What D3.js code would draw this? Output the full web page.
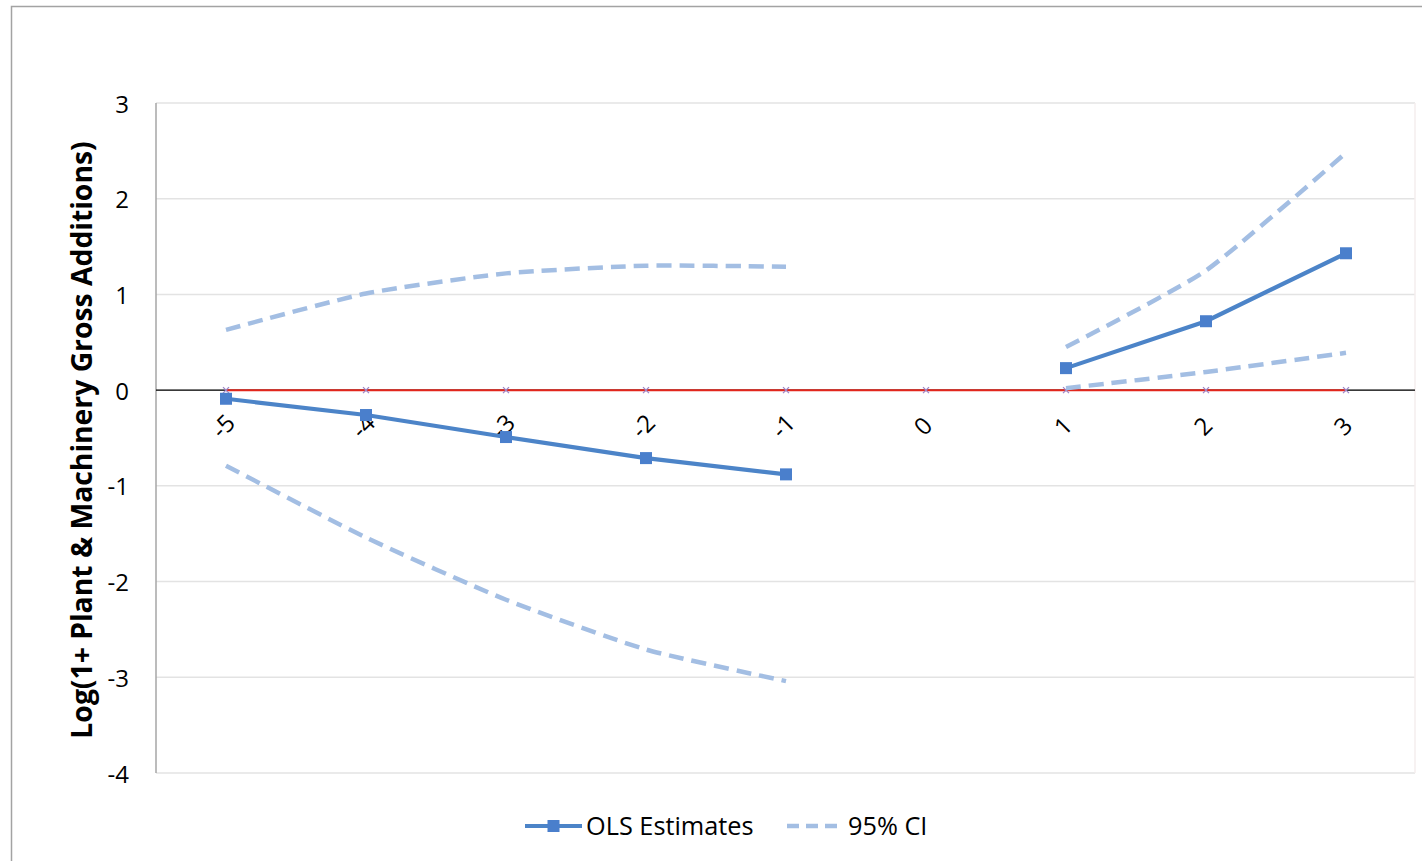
<!DOCTYPE html>
<html><head><meta charset="utf-8">
<script src="https://cdn.jsdelivr.net/npm/d3@7"></script>
<style>html,body{margin:0;padding:0;background:#fff;}svg{display:block;}</style>
</head><body>
<svg id="chart" width="1422" height="861"></svg>
<script>
const categories = ["-5","-4","-3","-2","-1","0","1","2","3"];
const olsEstimates = [-0.09,-0.26,-0.49,-0.71,-0.88,null,0.23,0.72,1.43];
const ciUpper = [0.63,1.01,1.22,1.30,1.29,null,0.45,1.25,2.48];
const ciLower = [-0.79,-1.54,-2.19,-2.71,-3.04,null,0.02,0.19,0.39];
const zeroLine = [0,0,0,0,0,0,0,0,0];
const yTicks = [-4,-3,-2,-1,0,1,2,3];
const yTitle = "Log(1+ Plant & Machinery Gross Additions)";
const legendLabels = ["OLS Estimates","95% CI"];

const FONT = "'Open Sans', 'Liberation Sans', sans-serif";
const svg = d3.select("#chart");
const L = 156, T = 103, R = 1416, B = 773;

svg.append("rect").attr("width",1422).attr("height",861).attr("fill","#fff");
svg.append("rect").attr("x",11.5).attr("y",6.5).attr("width",1430).attr("height",870)
  .attr("fill","none").attr("stroke","#a3a3a3").attr("stroke-width",1.5);

const x = d3.scaleBand().domain(categories).range([L,R]);
const cx = c => x(c) + x.bandwidth()/2;
const y = d3.scaleLinear().domain([-4,3]).range([B,T]);

// gridlines
svg.append("g").selectAll("line").data(yTicks).join("line")
  .attr("x1",L).attr("x2",R-1).attr("y1",d=>y(d)).attr("y2",d=>y(d))
  .attr("stroke","#e3e3e3").attr("stroke-width",1.5);
svg.append("line").attr("x1",R-1).attr("x2",R-1).attr("y1",T).attr("y2",B)
  .attr("stroke","#f4eeee").attr("stroke-width",1.5);

// left axis line
svg.append("line").attr("x1",L).attr("x2",L).attr("y1",T).attr("y2",B)
  .attr("stroke","#a6a6a6").attr("stroke-width",1.5);

// y tick labels
svg.append("g").selectAll("text").data(yTicks).join("text")
  .attr("x",129).attr("y",d=>y(d)+1).attr("dy","0.36em")
  .attr("text-anchor","end").attr("font-family",FONT).attr("font-size",24)
  .attr("fill","#000").text(d=>d);

// y title
svg.append("text").attr("transform",`translate(92,${(T+B)/2 + 2}) rotate(-90)`)
  .attr("text-anchor","middle").attr("font-family",FONT).attr("font-weight","bold")
  .attr("font-size",28.3).attr("fill","#000").text(yTitle);

// zero axis (black)
svg.append("line").attr("x1",L).attr("x2",R-1).attr("y1",y(0)).attr("y2",y(0))
  .attr("stroke","#000").attr("stroke-width",1.3);

// red zero series
const idx = d3.range(categories.length);
const lineLin = d3.line().x(i=>cx(categories[i])).y(i=>y(zeroLine[i]));
svg.append("path").attr("d",lineLin(idx)).attr("fill","none")
  .attr("stroke","#e3261c").attr("stroke-width",2);
// x markers
const xm = svg.append("g");
idx.forEach(i=>{
  const px = cx(categories[i]), py = y(zeroLine[i]), s=3;
  xm.append("path").attr("d",`M${px-s},${py-s}L${px+s},${py+s}M${px-s},${py+s}L${px+s},${py-s}`)
    .attr("stroke","#9d86c9").attr("stroke-width",1.3).attr("fill","none");
});

// x tick labels (rotated)
svg.append("g").selectAll("text").data(categories).join("text")
  .attr("transform",d=>`translate(${cx(d)-3},${426}) rotate(-45)`)
  .attr("text-anchor","middle").attr("dy","0.36em")
  .attr("font-family",FONT).attr("font-size",24).attr("fill","#000").text(d=>d);

// CI lines
const ciLine = vals => d3.line().defined(i=>vals[i]!==null)
  .curve(d3.curveCardinal.tension(0.45))
  .x(i=>cx(categories[i])).y(i=>y(vals[i]));
[ciUpper, ciLower].forEach(vals=>{
  svg.append("path").attr("d",ciLine(vals)(idx)).attr("fill","none")
    .attr("stroke","#a3bee3").attr("stroke-width",4.5)
    .attr("stroke-dasharray","15,8").attr("stroke-linecap","butt");
});

// OLS line
const olsLine = d3.line().defined(i=>olsEstimates[i]!==null)
  .x(i=>cx(categories[i])).y(i=>y(olsEstimates[i]));
svg.append("path").attr("d",olsLine(idx)).attr("fill","none")
  .attr("stroke","#4c84c8").attr("stroke-width",4.2);
svg.append("g").selectAll("rect").data(idx.filter(i=>olsEstimates[i]!==null)).join("rect")
  .attr("x",i=>cx(categories[i])-6).attr("y",i=>y(olsEstimates[i])-6)
  .attr("width",12).attr("height",12).attr("fill","#4a7fcc");

// legend
const ly = 826;
const lg = svg.append("g");
lg.append("line").attr("x1",525).attr("x2",582).attr("y1",ly).attr("y2",ly)
  .attr("stroke","#4c84c8").attr("stroke-width",4.2);
lg.append("rect").attr("x",547.5).attr("y",ly-6).attr("width",12).attr("height",12).attr("fill","#4a7fcc");
lg.append("text").attr("x",586).attr("y",ly).attr("dy","0.36em")
  .attr("font-family",FONT).attr("font-size",25.3).attr("fill","#000").text(legendLabels[0]);
lg.append("line").attr("x1",787).attr("x2",837).attr("y1",ly).attr("y2",ly)
  .attr("stroke","#a3bee3").attr("stroke-width",4.5).attr("stroke-dasharray","12,7");
lg.append("text").attr("x",848).attr("y",ly).attr("dy","0.36em")
  .attr("font-family",FONT).attr("font-size",25.3).attr("fill","#000").text(legendLabels[1]);
</script>
</body></html>
